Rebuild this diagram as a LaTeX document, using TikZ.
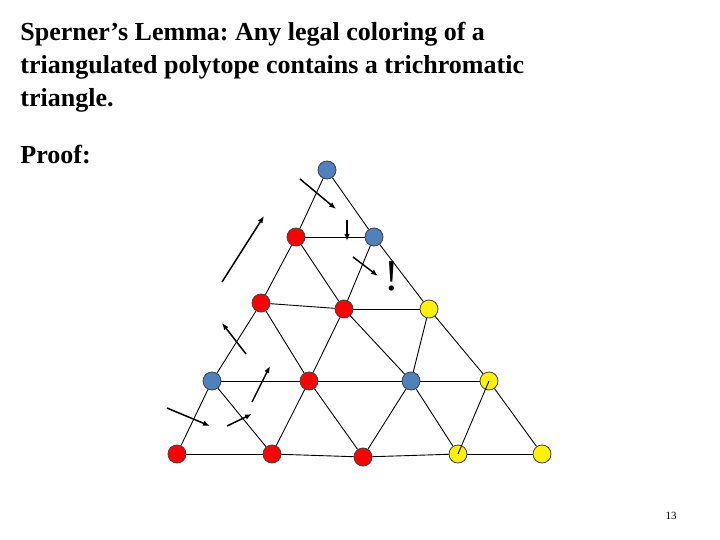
\documentclass[tikz,border=0pt]{standalone}
\usepackage{fontspec}
\setmainfont{Liberation Serif}
\usetikzlibrary{arrows.meta}
\definecolor{sblue}{RGB}{79,129,189}
\tikzset{vtx/.style={circle, draw=black!75, fill=#1, minimum size=18pt, inner sep=0pt, line width=0.8pt},
         walk/.style={-{Latex[length=7pt,width=5.5pt]}, line width=1.5pt}}
\frenchspacing

\begin{document}
\begin{tikzpicture}[x=1pt, y=-1pt, line width=0.9pt]
\useasboundingbox (0,0) rectangle (720,540);

\node[anchor=base west, align=left, inner sep=0pt, font=\bfseries\fontsize{26}{33}\selectfont] (title) at (20,107)
  {Sperner’s Lemma: Any legal coloring of a\\triangulated polytope contains a trichromatic\\triangle.};
\node[anchor=base west, inner sep=0pt, font=\bfseries\fontsize{26}{33}\selectfont] (proof) at (20,164) {Proof:};

% vertices, row-column
\foreach \n/\x/\y/\c in {1-1/327/170/sblue,
    2-1/296/237/red, 2-2/374/237/sblue,
    3-1/261/303/red, 3-2/344/309/red, 3-3/429/309/yellow,
    4-1/212/381/sblue, 4-2/309/381/red, 4-3/411/381/sblue, 4-4/489/381/yellow,
    5-1/177/454/red, 5-2/272/454/red, 5-3/363/457/red, 5-4/458/454/yellow, 5-5/542/454/yellow}
  \node[vtx=\c] (v-\n) at (\x,\y) {};

% triangulation
\foreach \a/\b in {2-1/2-2, 3-1/3-2, 3-2/3-3, 4-1/4-2, 4-2/4-3, 4-3/4-4,
    5-1/5-2, 5-2/5-3, 5-3/5-4, 5-4/5-5,
    1-1/2-1, 2-1/3-1, 3-1/4-1, 4-1/5-1, 2-2/3-2, 3-2/4-2, 4-2/5-2, 3-3/4-3, 4-3/5-3,
    1-1/2-2, 2-2/3-3, 3-3/4-4, 4-4/5-5, 2-1/3-2, 3-2/4-3, 4-3/5-4, 3-1/4-2, 4-2/5-3, 4-1/5-2}
  \draw (v-\a) -- (v-\b);
\draw (v-4-4.center) -- (v-5-4.center);

% the walk
\foreach \xa/\ya/\xb/\yb in {300/179/336/209, 347/220/347/241, 222/282/264/216, 353/257/378/276,
    246/354/222/323, 252/402/270/366, 167/408/210/426, 227/426/252/414}
  \draw[walk] (\xa,\ya) -- (\xb,\yb);

\node[font=\fontsize{44}{44}\selectfont, inner sep=0pt, anchor=base] (bang) at (392,290) {!};
\node[font=\fontsize{11}{13}\selectfont, inner sep=0pt, anchor=base east] (page) at (677,519) {13};
\end{tikzpicture}
\end{document}
